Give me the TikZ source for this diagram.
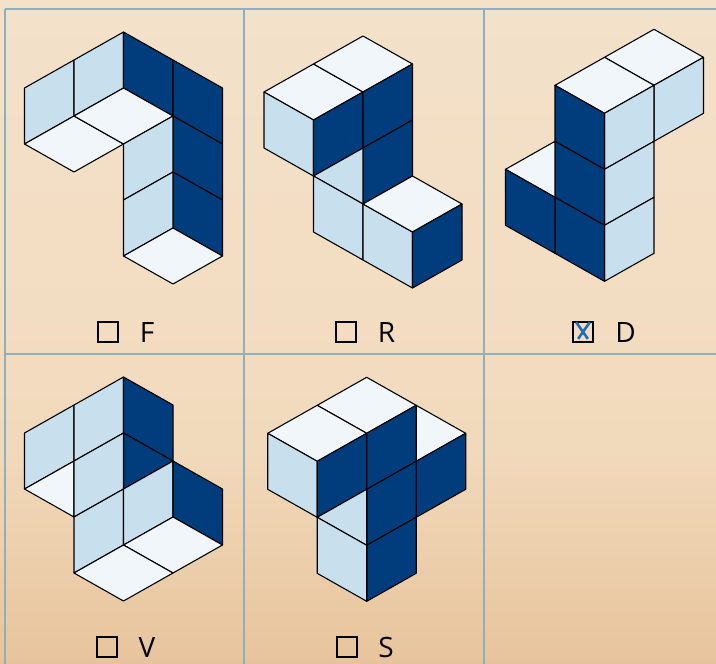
\documentclass[tikz,border=0pt]{standalone}
\usepackage{fontspec}
\setmainfont{Open Sans}

\definecolor{bgtop}{RGB}{243,225,202}
\definecolor{bgupper}{RGB}{243,221,194}
\definecolor{bglower}{RGB}{241,217,187}
\definecolor{bgbottom}{RGB}{231,196,156}
\pgfdeclareverticalshading{panelbg}{100bp}{color(0bp)=(bgbottom); color(25bp)=(bgbottom); color(41bp)=(bglower); color(52bp)=(bgupper); color(75bp)=(bgtop); color(100bp)=(bgtop)}

\begin{document}
\begin{tikzpicture}[
  darkface/.style  = {draw=black, fill={rgb,255:red,1;green,61;blue,125}, line width=1.1pt, line join=round},
  lightface/.style = {draw=black, fill={rgb,255:red,200;green,223;blue,238}, line width=1.1pt, line join=round},
  whiteface/.style = {draw=black, fill={rgb,255:red,240;green,246;blue,250}, line width=1.1pt, line join=round},
  isogrid/.style   = {x=49.5pt, y=-28pt},
  gridline/.style  = {draw={rgb,255:red,142;green,176;blue,190}, line width=1.4pt},
  tickbox/.style   = {draw=black, line width=2pt, minimum size=20pt, inner sep=0pt},
  tickmark/.style  = {draw={rgb,255:red,30;green,110;blue,184}, line width=2.6pt, shorten >=2pt, shorten <=2pt},
  optlabel/.style  = {anchor=base, inner sep=0pt, font=\fontsize{28}{30}\selectfont},
  x=1pt, y=-1pt,
]

  \useasboundingbox (0,0) rectangle (716,664);
  \shade[shading=panelbg] (0,0) rectangle (716,664);

  \draw[gridline] (5,9) -- (716,9);
  \draw[gridline] (5,354) -- (716,354);
  \draw[gridline] (5,9) -- (5,664);
  \draw[gridline] (244,9) -- (244,664);
  \draw[gridline] (484,9) -- (484,664);

  \begin{scope}[shift={(24.5,32)}, isogrid]
    \draw[lightface] (0,2) -- (1,1) -- (1,3) -- (0,4) -- cycle;
    \draw[lightface] (1,1) -- (2,0) -- (2,2) -- (1,3) -- cycle;
    \draw[darkface]  (2,0) -- (3,1) -- (3,3) -- (2,2) -- cycle;
    \draw[darkface]  (3,1) -- (4,2) -- (4,4) -- (3,3) -- cycle;
    \draw[darkface]  (3,3) -- (4,4) -- (4,6) -- (3,5) -- cycle;
    \draw[darkface]  (3,5) -- (4,6) -- (4,8) -- (3,7) -- cycle;
    \draw[whiteface] (0,4) -- (1,3) -- (2,4) -- (1,5) -- cycle;
    \draw[whiteface] (1,3) -- (2,2) -- (3,3) -- (2,4) -- cycle;
    \draw[lightface] (2,4) -- (3,3) -- (3,5) -- (2,6) -- cycle;
    \draw[lightface] (2,6) -- (3,5) -- (3,7) -- (2,8) -- cycle;
    \draw[whiteface] (2,8) -- (3,7) -- (4,8) -- (3,9) -- cycle;
  \end{scope}

  \begin{scope}[shift={(264,36)}, isogrid]
    \draw[whiteface] (0,2) -- (1,1) -- (2,2) -- (1,3) -- cycle;
    \draw[whiteface] (1,1) -- (2,0) -- (3,1) -- (2,2) -- cycle;
    \draw[lightface] (0,2) -- (1,3) -- (1,5) -- (0,4) -- cycle;
    \draw[darkface]  (1,3) -- (2,2) -- (2,4) -- (1,5) -- cycle;
    \draw[darkface]  (2,2) -- (3,1) -- (3,3) -- (2,4) -- cycle;
    \draw[darkface]  (2,4) -- (3,3) -- (3,5) -- (2,6) -- cycle;
    \draw[lightface] (1,5) -- (2,4) -- (2,6) -- cycle;
    \draw[lightface] (1,5) -- (2,6) -- (2,8) -- (1,7) -- cycle;
    \draw[lightface] (2,6) -- (3,7) -- (3,9) -- (2,8) -- cycle;
    \draw[whiteface] (2,6) -- (3,5) -- (4,6) -- (3,7) -- cycle;
    \draw[darkface]  (3,7) -- (4,6) -- (4,8) -- (3,9) -- cycle;
  \end{scope}

  \begin{scope}[shift={(505.5,29.3)}, isogrid]
    \draw[whiteface] (2,1) -- (3,0) -- (4,1) -- (3,2) -- cycle;
    \draw[whiteface] (1,2) -- (2,1) -- (3,2) -- (2,3) -- cycle;
    \draw[lightface] (3,2) -- (4,1) -- (4,3) -- (3,4) -- cycle;
    \draw[lightface] (2,3) -- (3,2) -- (3,4) -- (2,5) -- cycle;
    \draw[lightface] (2,5) -- (3,4) -- (3,6) -- (2,7) -- cycle;
    \draw[lightface] (2,7) -- (3,6) -- (3,8) -- (2,9) -- cycle;
    \draw[darkface]  (1,2) -- (2,3) -- (2,5) -- (1,4) -- cycle;
    \draw[darkface]  (1,4) -- (2,5) -- (2,7) -- (1,6) -- cycle;
    \draw[darkface]  (1,6) -- (2,7) -- (2,9) -- (1,8) -- cycle;
    \draw[whiteface] (0,5) -- (1,4) -- (1,6) -- cycle;
    \draw[darkface]  (0,5) -- (1,6) -- (1,8) -- (0,7) -- cycle;
  \end{scope}

  \begin{scope}[shift={(24.5,377)}, isogrid]
    \draw[lightface] (0,2) -- (1,1) -- (1,3) -- (0,4) -- cycle;
    \draw[lightface] (1,1) -- (2,0) -- (2,2) -- (1,3) -- cycle;
    \draw[darkface]  (2,0) -- (3,1) -- (3,3) -- (2,2) -- cycle;
    \draw[darkface]  (2,2) -- (3,3) -- (2,4) -- cycle;
    \draw[whiteface] (0,4) -- (1,3) -- (1,5) -- cycle;
    \draw[lightface] (1,3) -- (2,2) -- (2,4) -- (1,5) -- cycle;
    \draw[lightface] (1,5) -- (2,4) -- (2,6) -- (1,7) -- cycle;
    \draw[lightface] (2,4) -- (3,3) -- (3,5) -- (2,6) -- cycle;
    \draw[darkface]  (3,3) -- (4,4) -- (4,6) -- (3,5) -- cycle;
    \draw[whiteface] (2,6) -- (3,5) -- (4,6) -- (3,7) -- cycle;
    \draw[whiteface] (1,7) -- (2,6) -- (3,7) -- (2,8) -- cycle;
  \end{scope}

  \begin{scope}[shift={(267.7,377.3)}, isogrid]
    \draw[whiteface] (1,1) -- (2,0) -- (3,1) -- (2,2) -- cycle;
    \draw[whiteface] (0,2) -- (1,1) -- (2,2) -- (1,3) -- cycle;
    \draw[whiteface] (3,1) -- (4,2) -- (3,3) -- cycle;
    \draw[lightface] (0,2) -- (1,3) -- (1,5) -- (0,4) -- cycle;
    \draw[darkface]  (1,3) -- (2,2) -- (2,4) -- (1,5) -- cycle;
    \draw[darkface]  (2,2) -- (3,1) -- (3,3) -- (2,4) -- cycle;
    \draw[darkface]  (3,3) -- (4,2) -- (4,4) -- (3,5) -- cycle;
    \draw[darkface]  (2,4) -- (3,3) -- (3,5) -- (2,6) -- cycle;
    \draw[darkface]  (2,6) -- (3,5) -- (3,7) -- (2,8) -- cycle;
    \draw[lightface] (1,5) -- (2,4) -- (2,6) -- cycle;
    \draw[lightface] (1,5) -- (2,6) -- (2,8) -- (1,7) -- cycle;
  \end{scope}

  \node[tickbox] (boxF) at (108,331.5) {};
  \node[tickbox] (boxR) at (346,331.5) {};
  \node[tickbox] (boxD) at (583,331.5) {};
  \node[tickbox] (boxV) at (107,646.5) {};
  \node[tickbox] (boxS) at (347,646.5) {};
  \draw[tickmark] (boxD.north west) ++(3,0) -- ++(14,20);
  \draw[tickmark] (boxD.north east) ++(-3,0) -- ++(-14,20);

  \node[optlabel] (labF) at (147,342) {F};
  \node[optlabel] (labR) at (386.5,342) {R};
  \node[optlabel] (labD) at (625.5,342) {D};
  \node[optlabel] (labV) at (147,657) {V};
  \node[optlabel] (labS) at (386,657) {S};
\end{tikzpicture}
\end{document}
